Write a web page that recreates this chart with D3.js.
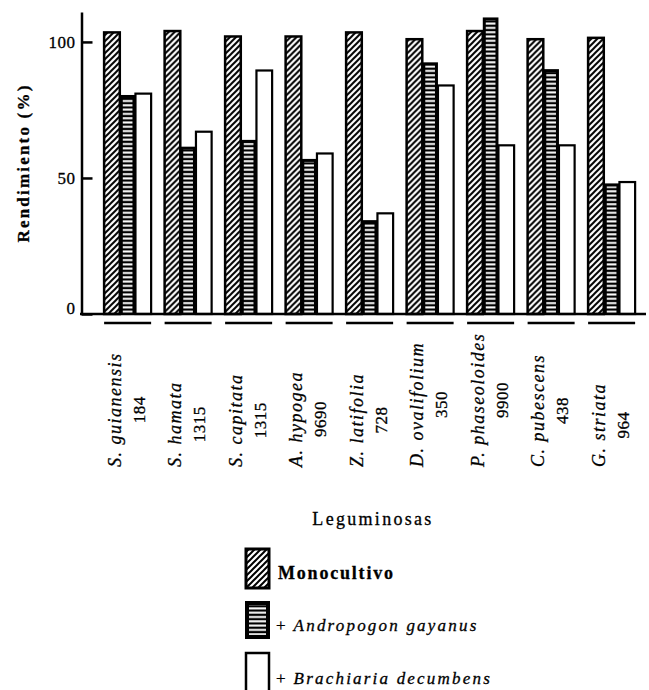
<!DOCTYPE html>
<html>
<head>
<meta charset="utf-8">
<script src="https://cdn.jsdelivr.net/npm/d3@7/dist/d3.min.js"></script>
<style>
  html, body { margin: 0; padding: 0; background: #fff; }
  svg { display: block; }
  text { font-family: "Liberation Serif", "Times New Roman", serif; fill: #000; stroke: #000; stroke-width: 0.3px; }
</style>
</head>
<body>
<svg id="chart" width="649" height="690"></svg>
<script>
// Leguminosas y su accesión
const species = ["S. guianensis", "S. hamata", "S. capitata", "A. hypogea", "Z. latifolia",
                 "D. ovalifolium", "P. phaseoloides", "C. pubescens", "G. striata"];
const accessions = ["184", "1315", "1315", "9690", "728", "350", "9900", "438", "964"];

// Rendimiento relativo (%)
const monocultivo = [103.5, 104, 102, 102, 103.5, 101, 104, 101, 101.5];
const andropogon  = [80.5, 61.5, 64, 57, 34.5, 92.5, 109, 90, 48];
const brachiaria  = [81, 67, 89.5, 59, 37, 84, 62, 62, 48.5];

const seriesKeys = ["mono", "andro", "brach"];
const yTicks = [0, 50, 100];

const svg = d3.select("#chart");
const defs = svg.append("defs");

// diagonal hatch
defs.append("pattern")
  .attr("id", "hatch").attr("patternUnits", "userSpaceOnUse")
  .attr("width", 6).attr("height", 6)
  .append("path")
  .attr("d", "M-1,1 l2,-2 M0,6 l6,-6 M5,7 l2,-2")
  .attr("stroke", "#000").attr("stroke-width", 2);

// horizontal white dashes on black
const stripe = defs.append("pattern")
  .attr("id", "stripe").attr("patternUnits", "userSpaceOnUse")
  .attr("width", 8).attr("height", 4.3);
stripe.append("rect").attr("width", 8).attr("height", 4.3).attr("fill", "#000");
stripe.append("rect").attr("y", 1.1).attr("width", 8).attr("height", 2).attr("fill", "#fff");

const baseY = 314;
const y = d3.scaleLinear().domain([0, 111]).range([baseY, 12]);

const x = d3.scaleBand().domain(species).range([81, 646])
  .paddingInner(0.223).paddingOuter(0.281).align(0.68);
const xs = d3.scaleBand().domain(seriesKeys).range([0, x.bandwidth()]);

const rows = species.map((s, i) => ({
  s, values: [
    { key: "mono", v: monocultivo[i] },
    { key: "andro", v: andropogon[i] },
    { key: "brach", v: brachiaria[i] }
  ]
}));

// bars
const groups = svg.append("g").selectAll("g").data(rows).join("g")
  .attr("transform", d => `translate(${x(d.s)},0)`);

groups.each(function (d) {
  const g = d3.select(this);
  d.values.forEach(b => {
    const bx = xs(b.key), bw = xs.bandwidth(), by = y(b.v), bh = baseY - y(b.v);
    if (b.key === "mono") {
      g.append("rect").attr("x", bx).attr("y", by).attr("width", bw).attr("height", bh)
        .attr("fill", "url(#hatch)").attr("stroke", "#000").attr("stroke-width", 2.5);
    } else if (b.key === "andro") {
      g.append("rect").attr("x", bx).attr("y", by).attr("width", bw).attr("height", bh)
        .attr("fill", "#000");
      g.append("rect").attr("x", bx + 3).attr("y", by + 3).attr("width", bw - 6).attr("height", Math.max(0, bh - 3))
        .attr("fill", "url(#stripe)");
    } else {
      g.append("rect").attr("x", bx).attr("y", by).attr("width", bw).attr("height", bh)
        .attr("fill", "#fff").attr("stroke", "#000").attr("stroke-width", 2.2);
    }
  });
});

// y axis, ticks pointing inward
const yAxis = d3.axisLeft(y).tickValues(yTicks).tickSizeInner(-11).tickSizeOuter(0).tickPadding(6);
const yg = svg.append("g").attr("transform", "translate(81.5,0)").call(yAxis);
yg.select(".domain").attr("stroke-width", 2.5);
yg.selectAll(".tick line").attr("stroke-width", 2.5);
yg.selectAll(".tick text")
  .style("font-family", "'Liberation Serif', serif").style("font-size", "17px")
  .style("letter-spacing", "0.5px").attr("fill", "#000")
  .attr("dy", d => d === 0 ? "-0.05em" : "0.32em");

// baseline
svg.append("line").attr("x1", 80).attr("x2", x.range()[1]).attr("y1", baseY).attr("y2", baseY)
  .attr("stroke", "#000").attr("stroke-width", 2.5);

// underline below each group
svg.append("g").selectAll("line").data(species).join("line")
  .attr("x1", d => x(d)).attr("x2", d => x(d) + x.bandwidth())
  .attr("y1", 323).attr("y2", 323).attr("stroke", "#000").attr("stroke-width", 2.5);

// rotated category labels
const labels = svg.append("g").selectAll("g").data(species).join("g");
labels.each(function (s, i) {
  const g = d3.select(this);
  const x0 = x(s);
  const name = g.append("text")
    .attr("transform", `translate(${x0 + 16.5},467) rotate(-90)`)
    .attr("text-anchor", "start")
    .style("font-size", "18px").style("font-style", "italic").style("letter-spacing", "1.5px")
    .text(s);
  const len = name.node().getComputedTextLength();
  g.append("text")
    .attr("transform", `translate(${x0 + 40.5},${467 - len / 2}) rotate(-90)`)
    .attr("text-anchor", "middle")
    .style("font-size", "17px").style("letter-spacing", "0.5px")
    .text(accessions[i]);
});

// y title
svg.append("text")
  .attr("transform", "translate(29,163) rotate(-90)")
  .attr("text-anchor", "middle")
  .style("font-size", "17px").style("font-weight", "bold").style("letter-spacing", "2.2px")
  .text("Rendimiento (%)");

// x title
svg.append("text").attr("x", 373).attr("y", 525).attr("text-anchor", "middle")
  .style("font-size", "18px").style("letter-spacing", "2.3px")
  .text("Leguminosas");

// legend
const legendItems = [
  { key: "mono", y: 549, h: 39 },
  { key: "andro", y: 601, h: 38 },
  { key: "brach", y: 653, h: 40 }
];
const leg = svg.append("g");
legendItems.forEach(it => {
  if (it.key === "mono") {
    leg.append("rect").attr("x", 246).attr("y", it.y).attr("width", 23).attr("height", it.h)
      .attr("fill", "url(#hatch)").attr("stroke", "#000").attr("stroke-width", 3);
  } else if (it.key === "andro") {
    leg.append("rect").attr("x", 245).attr("y", it.y).attr("width", 25).attr("height", it.h).attr("fill", "#000");
    leg.append("rect").attr("x", 249).attr("y", it.y + 4).attr("width", 17).attr("height", it.h - 8)
      .attr("fill", "url(#stripe)");
  } else {
    leg.append("rect").attr("x", 246).attr("y", it.y).attr("width", 23).attr("height", it.h)
      .attr("fill", "#fff").attr("stroke", "#000").attr("stroke-width", 2.5);
  }
});

leg.append("text").attr("x", 278).attr("y", 579)
  .style("font-size", "18px").style("font-weight", "bold").style("letter-spacing", "1.8px")
  .text("Monocultivo");

const t2 = leg.append("text").attr("x", 276).attr("y", 631).style("font-size", "17px");
t2.append("tspan").text("+");
t2.append("tspan").attr("dx", 8).style("font-style", "italic").style("letter-spacing", "2.2px").text("Andropogon gayanus");

const t3 = leg.append("text").attr("x", 276).attr("y", 684).style("font-size", "17px");
t3.append("tspan").text("+");
t3.append("tspan").attr("dx", 8).style("font-style", "italic").style("letter-spacing", "2.2px").text("Brachiaria decumbens");
</script>
</body>
</html>
